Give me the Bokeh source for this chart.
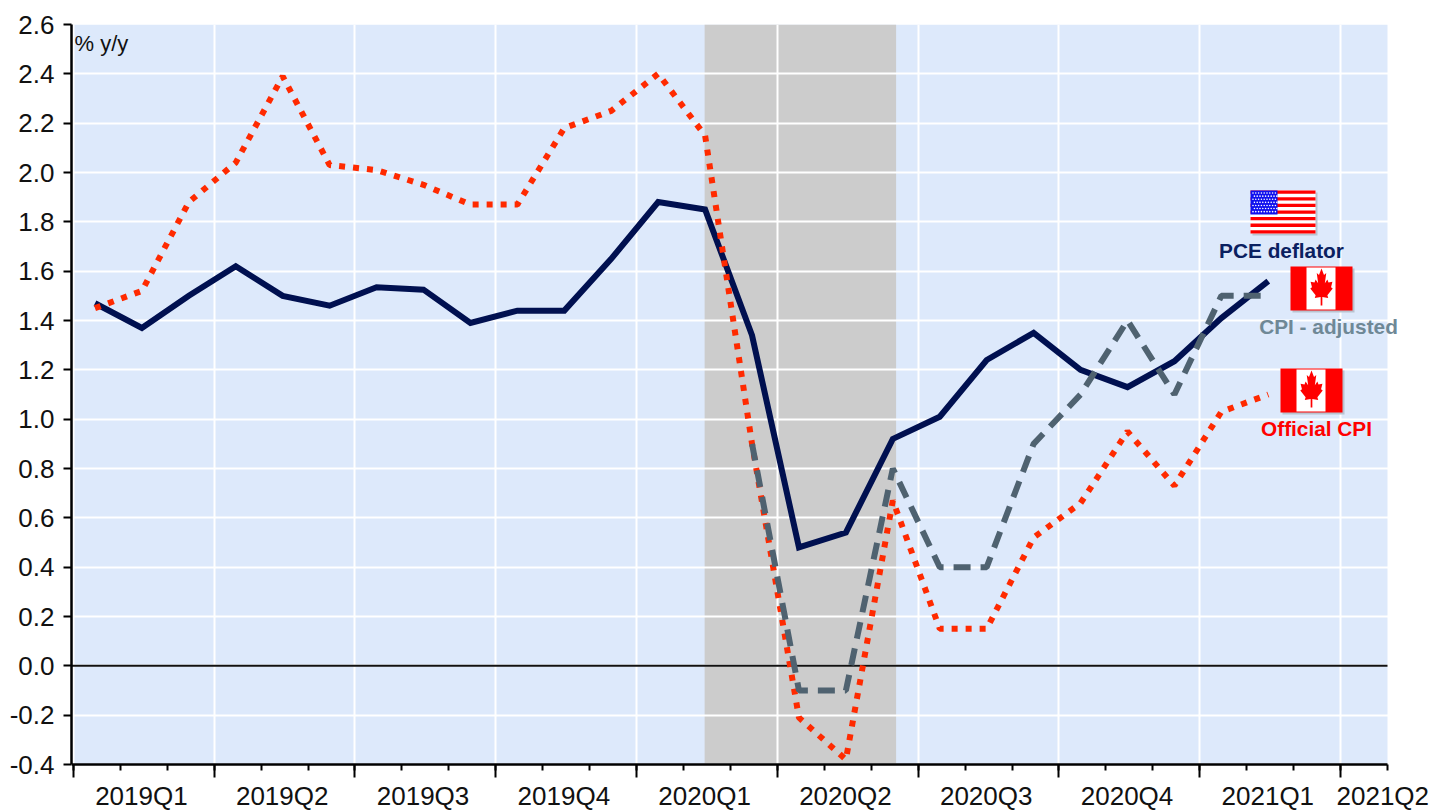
from bokeh.plotting import figure
from bokeh.models import FixedTicker, LinearAxis, Label, CustomLabelingPolicy
from bokeh.embed import file_html
from bokeh.resources import INLINE

# ---- data (monthly, Jan 2019 .. Feb 2021)
pce_deflator = [1.47, 1.37, 1.50, 1.62, 1.50, 1.46, 1.535, 1.525, 1.39, 1.44, 1.44, 1.65,
                1.88, 1.85, 1.34, 0.48, 0.54, 0.92, 1.01, 1.24, 1.35, 1.20, 1.13, 1.235,
                1.41, 1.56]
official_cpi = [1.45, 1.52, 1.88, 2.04, 2.39, 2.03, 2.01, 1.95, 1.87, 1.87, 2.18, 2.25,
                2.40, 2.15, 0.90, -0.21, -0.38, 0.67, 0.15, 0.15, 0.52, 0.66, 0.95, 0.73,
                1.03, 1.10]
cpi_adjusted = [0.90, -0.10, -0.10, 0.80, 0.40, 0.40, 0.90, 1.10, 1.40, 1.10, 1.50, 1.50]
adjusted_start_month = 14
month_x = [i + 0.46 for i in range(26)]
quarter_labels = ["2019Q1", "2019Q2", "2019Q3", "2019Q4", "2020Q1", "2020Q2",
                  "2020Q3", "2020Q4", "2021Q1", "2021Q2"]
quarter_starts = [0, 3, 6, 9, 12, 15, 18, 21, 24, 27]
label_pos = [1.45, 4.45, 7.45, 10.45, 13.45, 16.45, 19.45, 22.45, 25.45, 27.9]
y_ticks = [round(-0.4 + 0.2 * i, 1) for i in range(16)]
recession = (13.45, 17.53)
x_start, x_end = -0.04, 28.0
y_start, y_end = -0.4, 2.6

NAVY, SLATE, RED = "#001050", "#4F6270", "#FF2A00"
FONT = "Liberation Sans"

PX_PER_MONTH = 1316.0 / (x_end - x_start)
PX_PER_UNIT = 740.0 / (y_end - y_start)
# the frame runs on to the page's right and bottom edges so that overhanging labels and the
# axis below are not clipped; the plot area proper is painted as a quad
x_frame_end = x_start + (1450 - 71) / PX_PER_MONTH
y_frame_start = y_start - (810 - 764) / PX_PER_UNIT

p = figure(width=1450, height=810, x_range=(x_start, x_frame_end), y_range=(y_frame_start, y_end),
           output_backend="svg", toolbar_location=None,
           min_border_left=71, min_border_right=0, min_border_top=24, min_border_bottom=0,
           border_fill_color="white", background_fill_color="white")
p.outline_line_color = None

# x axis: ticks only, its own labels are hidden by a policy
xa = p.xaxis[0]
xa.fixed_location = y_start
xa.bounds = (x_start, x_end)
xa.ticker = FixedTicker(ticks=quarter_starts, minor_ticks=list(range(0, 29)))
xa.major_label_policy = CustomLabelingPolicy(code="for (const i of indices) indices.unset(i); return indices")
xa.major_tick_in = 0
xa.major_tick_out = 13
xa.minor_tick_in = 0
xa.minor_tick_out = 6
xa.axis_line_width = 2.5
xa.major_tick_line_width = 2
xa.minor_tick_line_width = 2
xa.axis_line_color = "black"

# x axis: quarter labels
xb = LinearAxis(ticker=FixedTicker(ticks=label_pos), fixed_location=y_start,
                major_label_overrides={pos: lab for pos, lab in zip(label_pos, quarter_labels)})
xb.axis_line_color = None
xb.major_tick_line_color = None
xb.minor_tick_line_color = None
xb.major_tick_out = 0
xb.major_tick_in = 0
xb.major_label_standoff = 16
xb.major_label_text_font = FONT
xb.major_label_text_font_size = "26px"
xb.major_label_text_color = "#111111"
p.add_layout(xb, "below")

ya = p.yaxis[0]
ya.bounds = (y_start, y_end)
ya.ticker = FixedTicker(ticks=y_ticks)
ya.major_label_overrides = {t: f"{t:.1f}" for t in y_ticks}
ya.major_tick_in = 0
ya.major_tick_out = 8
ya.minor_tick_line_color = None
ya.axis_line_width = 2.5
ya.major_tick_line_width = 2
ya.major_label_standoff = 9
ya.major_label_text_font = FONT
ya.major_label_text_font_size = "26px"
ya.major_label_text_color = "#111111"

p.xgrid.ticker = FixedTicker(ticks=quarter_starts)
p.ygrid.ticker = FixedTicker(ticks=y_ticks)
p.ygrid.bounds = (x_start, x_end)
p.xgrid.bounds = (y_start, y_end)
for g in (p.xgrid, p.ygrid):
    g.grid_line_color = "white"
    g.grid_line_width = 2

p.quad(left=x_start, right=x_end, bottom=y_start, top=y_end,
       fill_color="#DDE9FB", line_color=None, level="image")
p.quad(left=recession[0], right=recession[1], bottom=y_start, top=y_end,
       fill_color="#CCCCCC", line_color=None, level="image")
p.segment(x0=x_start, x1=x_end, y0=0, y1=0, line_color="#111111", line_width=2)

p.line(month_x, pce_deflator, line_color=NAVY, line_width=6, line_join="miter")
p.line(month_x, official_cpi, line_color=RED, line_width=6, line_dash="6 8")
p.line(month_x[adjusted_start_month:], cpi_adjusted, line_color=SLATE, line_width=6, line_dash="17 10")


# ---- decoration helpers: reference pixel -> data coordinates
def dx(px):
    return (px - 71.0) / PX_PER_MONTH + x_start


def dy(py):
    return (665.3 - py) / PX_PER_UNIT


def box(x0, y0, x1, y1, color):
    p.quad(left=dx(x0), right=dx(x1), top=dy(y0), bottom=dy(y1), fill_color=color, line_color=None)


def text(s, cx, cy, color, size="20.8px", weight="bold", align="center"):
    p.add_layout(Label(x=dx(cx), y=dy(cy), text=s, text_color=color, text_font=FONT,
                       text_font_size=size, text_font_style=weight, text_align=align,
                       text_baseline="middle"))


LEAF = [(0, 1.0), (0.18, 0.66), (0.34, 0.76), (0.24, 0.22), (0.42, 0.42), (0.5, 0.26),
        (0.78, 0.3), (0.68, 0.02), (0.8, -0.05), (0.42, -0.4), (0.48, -0.55), (0.06, -0.5),
        (0.06, -0.95)]


def canada(x0, y0):
    box(x0 + 2, y0 + 2, x0 + 64, y0 + 46, "#B9C3D0")
    box(x0, y0, x0 + 62, y0 + 44, "#FF0000")
    box(x0 + 16, y0 + 1, x0 + 45, y0 + 43, "white")
    pts = LEAF + [(-a, b) for a, b in reversed(LEAF)]
    p.patch([dx(x0 + 31 + a * 14) for a, b in pts], [dy(y0 + 21 - b * 19) for a, b in pts],
            fill_color="#FF0000", line_color=None)


def usa(x0, y0):
    box(x0 + 2, y0 + 2, x0 + 67, y0 + 45, "#B9C3D0")
    box(x0, y0, x0 + 65, y0 + 43, "white")
    h = 43 / 13
    for i in range(0, 13, 2):
        box(x0, y0 + i * h, x0 + 65, y0 + (i + 1) * h, "#FF0000")
    box(x0, y0, x0 + 27, y0 + 24, "#1010EE")
    xs, ys = [], []
    for r in range(7):
        for c in range(9):
            xs.append(dx(x0 + 2.5 + c * 2.8 + (r % 2) * 1.4))
            ys.append(dy(y0 + 2.5 + r * 3.1))
    p.scatter(xs, ys, size=1.6, color="white", line_color=None)


usa(1250, 190)
canada(1290, 266)
canada(1280, 368)

text("PCE deflator", 1281, 250, "#0A2060")
text("CPI - adjusted", 1328, 326, "#6F8896")
text("Official CPI", 1316, 428, "#FF0000")
text("% y/y", 74, 43, "#111111", size="22px", weight="normal", align="left")

open("out.html", "w").write(file_html(p, INLINE))
